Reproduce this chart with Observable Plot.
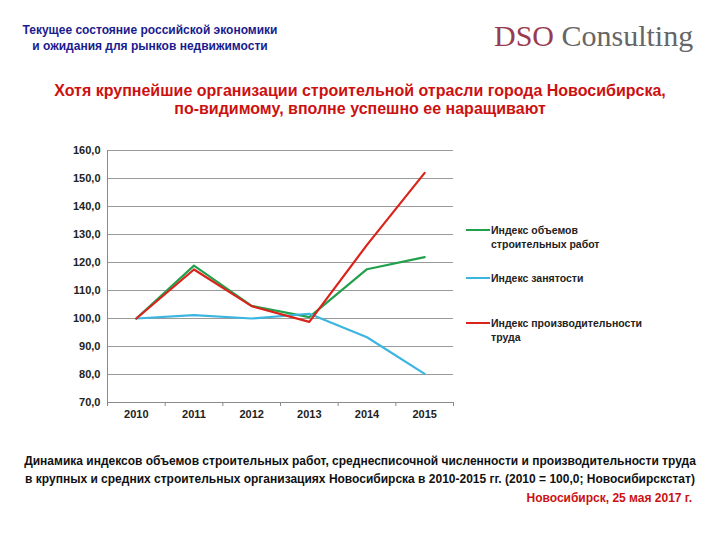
<!DOCTYPE html>
<html>
<head>
<meta charset="utf-8">
<script src="https://cdn.jsdelivr.net/npm/d3@7"></script>
<script src="https://cdn.jsdelivr.net/npm/@observablehq/plot@0.6"></script>
<style>
  html, body { margin: 0; padding: 0; background: #fff; }
  #page { position: relative; width: 720px; height: 540px; overflow: hidden; font-family: "Liberation Sans", Arial, sans-serif; }
  .abs { position: absolute; }
  #hdr { left: 0; top: 22px; width: 300px; text-align: center; color: #1b1b8e; font-weight: bold; font-size: 12px; line-height: 16px; }
  #logo { left: 494px; top: 19px; font-family: "Liberation Serif", "DejaVu Serif", serif; font-size: 30px; white-space: nowrap; }
  #logo .a { color: #9a3c50; }
  #logo .b { color: #666; }
  #title { left: 0; top: 82px; width: 720px; text-align: center; color: #cc1111; font-weight: bold; font-size: 16px; line-height: 18px; }
  #chart { left: 0; top: 130px; }
  #legend { left: 466px; top: 0; font-size: 10.5px; font-weight: bold; color: #222; line-height: 14px; }
  .li { position: absolute; left: 0; white-space: nowrap; }
  .li .sw { position: absolute; left: 0; width: 24px; height: 2px; }
  .li .tx { position: absolute; left: 25px; top: 0; }
  #caption { left: 0; top: 452px; width: 720px; text-align: center; font-weight: bold; font-size: 12px; line-height: 18px; color: #111; }
  #date { right: 28px; top: 491px; color: #cc1111; font-weight: bold; font-size: 12px; }
</style>
</head>
<body>
<div id="page">
  <div id="hdr" class="abs">Текущее состояние российской экономики<br>и ожидания для рынков недвижимости</div>
  <div id="logo" class="abs"><span class="a">DSO</span> <span class="b">Consulting</span></div>
  <div id="title" class="abs">Хотя крупнейшие организации строительной отрасли города Новосибирска,<br>по-видимому, вполне успешно ее наращивают</div>
  <div id="chart" class="abs"></div>
  <div id="legend" class="abs"></div>
  <div id="caption" class="abs">Динамика индексов объемов строительных работ, среднесписочной численности и производительности труда<br>в крупных и средних строительных организациях Новосибирска в 2010-2015 гг. (2010 = 100,0; Новосибирскстат)</div>
  <div id="date" class="abs">Новосибирск, 25 мая 2017 г.</div>
</div>
<script>
const years = [2010, 2011, 2012, 2013, 2014, 2015];
const volume = [100.0, 118.9, 104.5, 100.5, 117.6, 121.9];
const employment = [100.0, 101.2, 100.0, 101.7, 93.3, 80.2];
const productivity = [100.0, 117.5, 104.4, 98.8, 126.3, 152.0];
const seriesNames = ["Индекс объемов строительных работ", "Индекс занятости", "Индекс производительности труда"];
const legendLines = [["Индекс объемов", "строительных работ"], ["Индекс занятости"], ["Индекс производительности", "труда"]];
const colors = ["#22a04c", "#3cb6e0", "#d9231b"];
const yTicks = [70, 80, 90, 100, 110, 120, 130, 140, 150, 160];

const seriesValues = [volume, employment, productivity];
const rows = [];
seriesValues.forEach((vals, s) => vals.forEach((v, i) => rows.push({year: years[i], value: v, series: seriesNames[s]})));
const bounds = [years[0] - 0.5, ...years.map(y => y + 0.5)];
const fmt = d => d.toFixed(1).replace(".", ",");

const chart = Plot.plot({
  width: 470,
  height: 300,
  marginLeft: 107,
  marginRight: 17,
  marginTop: 20,
  marginBottom: 28,
  style: {fontFamily: "'Liberation Sans', Arial, sans-serif", fontSize: "11px", fontWeight: "bold", color: "#222", background: "transparent"},
  x: {domain: [bounds[0], bounds[bounds.length - 1]], axis: null},
  y: {domain: [yTicks[0], yTicks[yTicks.length - 1]], axis: null},
  color: {domain: seriesNames, range: colors},
  marks: [
    Plot.ruleY(yTicks.slice(1), {stroke: "#9a9a9a", strokeWidth: 1}),
    Plot.ruleX([bounds[0]], {stroke: "#8a8a8a", strokeWidth: 1}),
    Plot.ruleY([yTicks[0]], {stroke: "#8a8a8a", strokeWidth: 1}),
    Plot.axisY(yTicks, {tickSize: 0, tickPadding: 7, tickFormat: fmt, label: null, fill: "#222"}),
    Plot.axisX(bounds, {tickSize: 4, tickFormat: () => "", label: null, stroke: "#8a8a8a"}),
    Plot.axisX(years, {tickSize: 0, tickPadding: 8, tickFormat: d => String(d), label: null, fill: "#222"}),
    Plot.line(rows, {x: "year", y: "value", z: "series", stroke: "series", strokeWidth: 2.2, curve: "linear"})
  ]
});
document.getElementById("chart").appendChild(chart);

const legend = document.getElementById("legend");
const legTops = [223, 271, 316];
legendLines.forEach((lines, i) => {
  const li = document.createElement("div");
  li.className = "li";
  li.style.top = legTops[i] + "px";
  const sw = document.createElement("div");
  sw.className = "sw";
  sw.style.background = colors[i];
  sw.style.top = "6px";
  const tx = document.createElement("div");
  tx.className = "tx";
  tx.innerHTML = lines.join("<br>");
  li.appendChild(sw);
  li.appendChild(tx);
  legend.appendChild(li);
});
</script>
</body>
</html>
